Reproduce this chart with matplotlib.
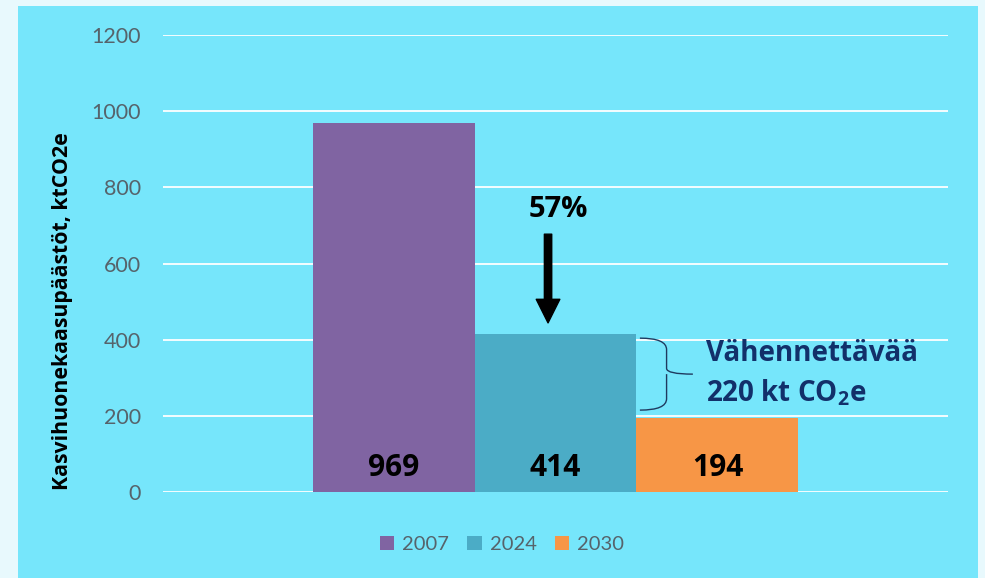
import matplotlib.pyplot as plt
from matplotlib.patches import Rectangle, PathPatch
from matplotlib.path import Path

# DATA
years = ['2007', '2024', '2030']
emissions = [969, 414, 194]
bar_colors = ['#8064A2', '#4BACC6', '#F79646']
reduction_label = '57%'
gap_label = 'Vähennettävää\n220 kt CO$_2$e'
y_ticks = [0, 200, 400, 600, 800, 1000, 1200]

panel_color = '#76E6FB'
grid_color = '#FFFFFF'
tick_color = '#56636B'
navy = '#12306A'

plt.rcParams['mathtext.default'] = 'regular'

fig = plt.figure(figsize=(9.85, 5.78), dpi=100)
fig.patch.set_facecolor('#E8F9FD')

# cyan panel behind the chart
fig.patches.append(Rectangle((18 / 985, 0), (978 - 18) / 985, (578 - 6) / 578,
                             transform=fig.transFigure, facecolor=panel_color,
                             edgecolor='none', zorder=-10))

ax = fig.add_axes([163 / 985, (578 - 492) / 578, (948 - 163) / 985, (492 - 35) / 578])
ax.set_facecolor('none')

w = 0.4127
positions = [(i - 1) * w for i in range(len(years))]
bars = ax.bar(positions, emissions, width=w, color=bar_colors, label=years, zorder=3)

ax.set_xlim(-1, 1)
ax.set_ylim(0, 1200)
ax.set_yticks(y_ticks)
ax.set_xticks([])
ax.yaxis.grid(True, color=grid_color, linewidth=1.3, zorder=1)
ax.set_axisbelow(True)
for s in ax.spines.values():
    s.set_visible(False)
ax.tick_params(axis='y', length=0, pad=16, labelsize=15.5, labelcolor=tick_color)
for lab in ax.get_yticklabels():
    lab.set_family('Lato')

ax.set_ylabel('Kasvihuonekaasupäästöt, ktCO2e', family='Open Sans', fontweight='bold',
              fontsize=15.3, color='black')
ax.yaxis.set_label_coords(-0.115, 0.395)

# value labels inside bars
for x, v in zip(positions, emissions):
    ax.text(x, 64, str(v), ha='center', va='center', family='Open Sans',
            fontweight='bold', fontsize=21.5, color='black', zorder=4)

# 57% reduction arrow
ax.text(0.006, 743, reduction_label, ha='center', va='center', family='Open Sans',
        fontweight='bold', fontsize=21, color='black')
ax.annotate('', xy=(-0.019, emissions[1] + 30), xytext=(-0.019, 677),
            arrowprops=dict(facecolor='black', edgecolor='black', width=5.3,
                            headwidth=17, headlength=17, shrink=0))

# brace between 2024 and 2030 bars
top = emissions[1] - 10
bot = emissions[2] + 21
mid = (top + bot) / 2
x0, x1, x2 = 0.215, 0.283, 0.350
verts = [(x0, top), (x1, top), (x1, top - 30),
         (x1, mid + 15),
         (x1, mid), (x2, mid),
         (x1, mid), (x1, mid - 15),
         (x1, bot + 30),
         (x1, bot), (x0, bot)]
codes = [Path.MOVETO, Path.CURVE3, Path.CURVE3,
         Path.LINETO,
         Path.CURVE3, Path.CURVE3,
         Path.MOVETO, Path.LINETO,
         Path.LINETO,
         Path.CURVE3, Path.CURVE3]
ax.add_patch(PathPatch(Path(verts, codes), facecolor='none', edgecolor='#1F3A5F',
                       linewidth=1.0, zorder=4))

ax.text(0.384, mid + 2, gap_label, ha='left', va='center', family='Open Sans',
        fontweight='bold', fontsize=20, color=navy, linespacing=1.4)

leg = ax.legend(loc='center', bbox_to_anchor=(0.432, -0.115), ncol=3, frameon=False,
                handlelength=0.7, handleheight=0.7, handletextpad=0.4, columnspacing=0.9,
                prop={'family': 'Lato', 'size': 14.5})
for t in leg.get_texts():
    t.set_color(tick_color)

plt.savefig('out.png', dpi=100, facecolor=fig.get_facecolor())
